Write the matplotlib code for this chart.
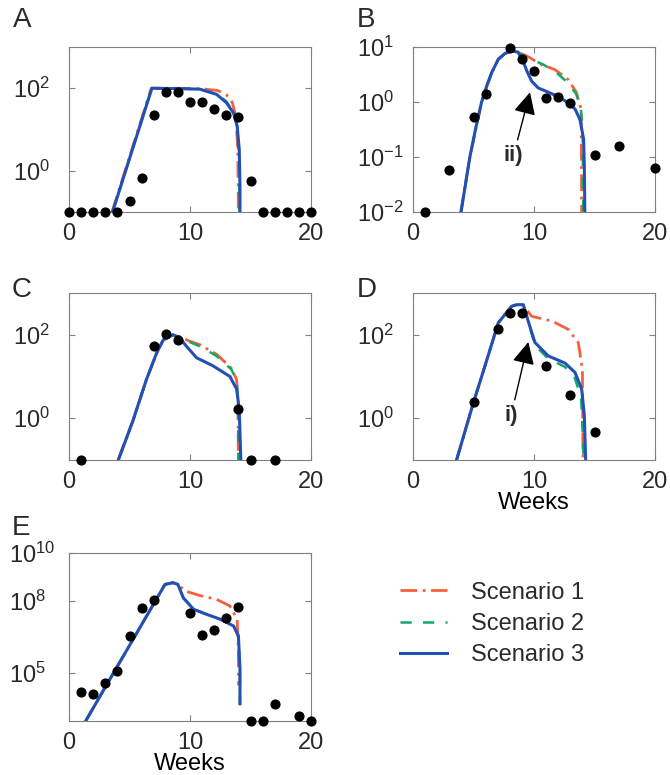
import numpy as np
import matplotlib
matplotlib.use("Agg")
import matplotlib.pyplot as plt

plt.rcParams["font.family"] = ["Liberation Sans", "DejaVu Sans"]
plt.rcParams["mathtext.fontset"] = "custom"
plt.rcParams["mathtext.rm"] = "Liberation Sans"
plt.rcParams["text.color"] = "#2a2a2a"

# observed data (0 = none observed, drawn on the bottom axis)
A_wk = list(range(21))
A_obs = [0, 0, 0, 0, 0, 0.19, 0.66, 22, 81, 83, 47, 46, 31, 22, 20, 0.57, 0, 0, 0, 0, 0]
B_wk = [1, 3, 5, 6, 8, 9, 10, 11, 12, 13, 15, 17, 20]
B_obs = [0.01, 0.058, 0.54, 1.4, 9.7, 6.0, 3.7, 1.17, 1.23, 0.97, 0.107, 0.16, 0.062]
C_wk = [1, 7, 8, 9, 14, 15, 17]
C_obs = [0, 55, 105, 73, 1.66, 0, 0]
D_wk = [5, 7, 8, 9, 11, 13, 15]
D_obs = [2.4, 138, 333, 333, 18, 3.6, 0.48]
E_wk = [1, 2, 3, 4, 5, 6, 7, 10, 11, 12, 13, 14, 15, 16, 17, 19, 20]
E_obs = [1.6e4, 1.3e4, 4e4, 1.2e5, 3.5e6, 4.9e7, 1.1e8, 3.3e7, 3.9e6, 6.3e6,
         1.9e7, 5.8e7, 0, 0, 5.2e3, 1.6e3, 0]

# model curves, scenario 1 / 2 / 3
A1_t = [3.55, 6.8, 9, 11, 12.3, 13.0, 13.5, 13.8, 13.95, 14.0]
A1_y = [0.1, 100, 100, 97, 88, 70, 45, 20, 3, 0.1]
A2_t = [3.6, 6.85, 9, 10.8, 12.2, 13.0, 13.6, 13.9, 14.05, 14.1]
A2_y = [0.1, 100, 98, 95, 73, 48, 26, 12, 2, 0.1]
A3_t = [3.6, 6.85, 9, 10.8, 12.2, 13.0, 13.6, 13.9, 14.07, 14.13, 14.13]
A3_y = [0.1, 100, 98, 95, 71, 45, 25, 12, 3.3, 0.4, 0.1]

B1_t = [3.95, 4.7, 5.67, 6.5, 7.05, 7.6, 8.15, 8.65, 9.0, 9.4, 10.6, 11.7, 12.8, 13.5, 13.9, 13.94]
B1_y = [0.01, 0.1, 1.0, 3.4, 6.0, 7.6, 8.5, 8.3, 7.5, 6.9, 4.8, 3.9, 2.6, 1.5, 0.74, 0.01]
B2_t = [3.97, 4.7, 5.67, 6.5, 7.05, 7.6, 8.15, 8.65, 9.0, 9.67, 10.77, 11.87, 12.84, 13.5, 13.88, 14.02, 14.08]
B2_y = [0.01, 0.1, 1.0, 3.4, 6.0, 7.6, 8.5, 8.2, 7.2, 6.1, 4.8, 3.4, 2.2, 1.38, 0.73, 0.28, 0.01]
B3_t = [3.97, 4.7, 5.2, 5.67, 6.1, 6.5, 7.05, 7.6, 8.15, 8.65, 9.0, 9.4, 9.8, 10.35, 11.2, 12.0,
        12.8, 13.4, 13.8, 14.1, 14.16, 14.2]
B3_y = [0.01, 0.1, 0.35, 1.0, 2.0, 3.4, 6.0, 7.6, 8.5, 8.1, 6.3, 3.7, 2.4, 1.8, 1.5, 1.25,
        0.98, 0.74, 0.48, 0.21, 0.069, 0.01]

C1_t = [4.05, 5.3, 6.4, 7.25, 7.8, 8.6, 9.3, 9.86, 10.8, 12.2, 13.4, 13.85, 13.96, 14.0]
C1_y = [0.1, 0.9, 8.5, 37, 76, 100, 88, 72, 58, 34, 16, 8.5, 3, 0.1]
C2_t = [4.08, 5.3, 6.4, 7.25, 7.8, 8.6, 9.3, 9.86, 10.8, 12.2, 13.4, 13.85, 13.96, 14.0]
C2_y = [0.1, 0.9, 8.5, 37, 76, 100, 85, 69, 53, 31, 15, 8.5, 3, 0.1]
C3_t = [4.08, 5.3, 6.4, 7.25, 7.8, 8.6, 9.17, 9.7, 10.55, 11.9, 13.3, 13.85, 14.07, 14.2]
C3_y = [0.1, 0.9, 8.5, 37, 76, 100, 83, 53, 28, 18, 10, 5, 1.66, 0.1]

D1_t = [3.6, 5, 5.95, 7.05, 8.15, 8.57, 9.12, 9.8, 11.5, 12.84, 13.66, 14.0, 14.05]
D1_y = [0.1, 2.4, 18, 194, 480, 525, 500, 277, 212, 134, 65, 15, 0.1]
D2_t = [3.6, 5, 5.95, 7.05, 8.15, 8.57, 9.12, 9.48, 10.08, 11.18, 12.56, 13.39, 13.9, 14.05, 14.1]
D2_y = [0.1, 2.4, 18, 194, 480, 525, 525, 232, 55, 27, 17, 9, 3, 0.3, 0.1]
D3_t = [3.6, 5, 5.95, 7.05, 8.15, 8.57, 9.12, 9.48, 10.08, 11.18, 12.56, 13.39, 13.94, 14.16, 14.27]
D3_y = [0.1, 2.4, 18, 194, 480, 525, 525, 232, 65, 31, 21, 12.5, 5, 1.15, 0.1]

E1_t = [1.38, 3, 5, 7, 7.93, 8.6, 9.0, 9.6, 10.8, 12.2, 13.3, 13.9, 14.0, 14.02]
E1_y = [1e3, 2.6e4, 1.4e6, 7.6e7, 4.9e8, 5.8e8, 4.9e8, 2.6e8, 1.7e8, 1.17e8, 6.2e7, 1.7e7, 7.2e5, 3e4]
E2_t = [1.38, 3, 5, 7, 7.93, 8.6, 9.0, 9.45, 10.3, 11.4, 12.5, 13.6, 14.0, 14.13, 14.13]
E2_y = [1e3, 2.6e4, 1.4e6, 7.6e7, 4.9e8, 5.8e8, 4.9e8, 1.35e8, 4.5e7, 2.75e7, 1.74e7, 9.1e6, 3.5e6, 1.5e5, 5.2e3]
E3_t = E2_t
E3_y = E2_y

RED = "#f4603c"
GREEN = "#12a86a"
BLUE = "#2350b5"
GREY = "#808080"
FS = 17


def panel(ax, wk, obs, curves, ylim, yticks, ypad=40):
    lo, hi = ylim
    s1, s2, s3 = curves
    ax.plot(s1[0], s1[1], color=RED, lw=2.0, dashes=(6, 2, 1, 2), label="Scenario 1")
    ax.plot(s2[0], s2[1], color=GREEN, lw=1.8, dashes=(4.5, 4.5), label="Scenario 2")
    ax.plot(s3[0], s3[1], color=BLUE, lw=2.2, label="Scenario 3")
    obs = np.asarray(obs, dtype=float)
    ax.plot(wk, np.where(obs > 0, obs, lo), "o", color="black", ms=6.3, clip_on=False, zorder=5)
    ax.set_yscale("log")
    ax.set_xlim(0, 20)
    ax.set_ylim(lo, hi)
    ax.set_xticks([0, 10, 20])
    ax.set_yticks(yticks)
    ax.set_yticklabels([r"$\mathregular{10^{%d}}$" % int(np.log10(v)) for v in yticks])
    ax.yaxis.set_minor_locator(matplotlib.ticker.NullLocator())
    for sp in ax.spines.values():
        sp.set_color(GREY)
    ax.tick_params(which="both", direction="in", top=True, right=True,
                   length=4, color=GREY, labelsize=FS, labelcolor="#2a2a2a")
    ax.tick_params(axis="x", pad=8)
    ax.tick_params(axis="y", pad=ypad)
    for lab in ax.get_yticklabels():
        lab.set_horizontalalignment("left")


fig = plt.figure(figsize=(6.7, 7.75), dpi=100)
W, H = 670, 775


def add_ax(x0, y0, x1, y1):
    return fig.add_axes([x0 / W, 1 - y1 / H, (x1 - x0) / W, (y1 - y0) / H])


axA = add_ax(69, 47, 311, 212)
axB = add_ax(413, 47, 655, 212)
axC = add_ax(69, 293, 311, 460)
axD = add_ax(413, 293, 655, 460)
axE = add_ax(69, 553, 311, 721)

panel(axA, A_wk, A_obs, [(A1_t, A1_y), (A2_t, A2_y), (A3_t, A3_y)], (0.1, 1000), [1, 100])
panel(axB, B_wk, B_obs, [(B1_t, B1_y), (B2_t, B2_y), (B3_t, B3_y)], (0.01, 10), [0.01, 0.1, 1, 10])
panel(axC, C_wk, C_obs, [(C1_t, C1_y), (C2_t, C2_y), (C3_t, C3_y)], (0.1, 1000), [1, 100])
panel(axD, D_wk, D_obs, [(D1_t, D1_y), (D2_t, D2_y), (D3_t, D3_y)], (0.1, 1000), [1, 100])
panel(axE, E_wk, E_obs, [(E1_t, E1_y), (E2_t, E2_y), (E3_t, E3_y)], (1e3, 1e10), [1e5, 1e8, 1e10], ypad=43)

for ax in (axD, axE):
    ax.set_xlabel("Weeks", fontsize=FS, labelpad=-1)

arrow = dict(arrowstyle="-|>", color="black", lw=1.0, mutation_scale=34, shrinkA=2, shrinkB=0)
axB.annotate("ii)", xy=(9.67, 1.5), xytext=(8.3, 0.105), fontsize=16, fontweight="bold",
             ha="center", va="center", arrowprops=arrow)
axD.annotate("i)", xy=(9.53, 67), xytext=(8.1, 1.15), fontsize=16, fontweight="bold",
             ha="center", va="center", arrowprops=arrow)

for letter, x, y in [("A", 13, 7), ("B", 357, 7), ("C", 12, 277), ("D", 357, 277), ("E", 12, 515)]:
    fig.text(x / W, 1 - y / H, letter, fontsize=20, va="top", ha="left")

handles, labels = axE.get_legend_handles_labels()
fig.legend(handles, labels, loc="center left", bbox_to_anchor=(400 / W, 1 - 624 / H),
           frameon=False, fontsize=FS, borderpad=0, borderaxespad=0,
           handlelength=2.0, handletextpad=1.0, labelspacing=0.4)

fig.savefig("out.png", dpi=100)
